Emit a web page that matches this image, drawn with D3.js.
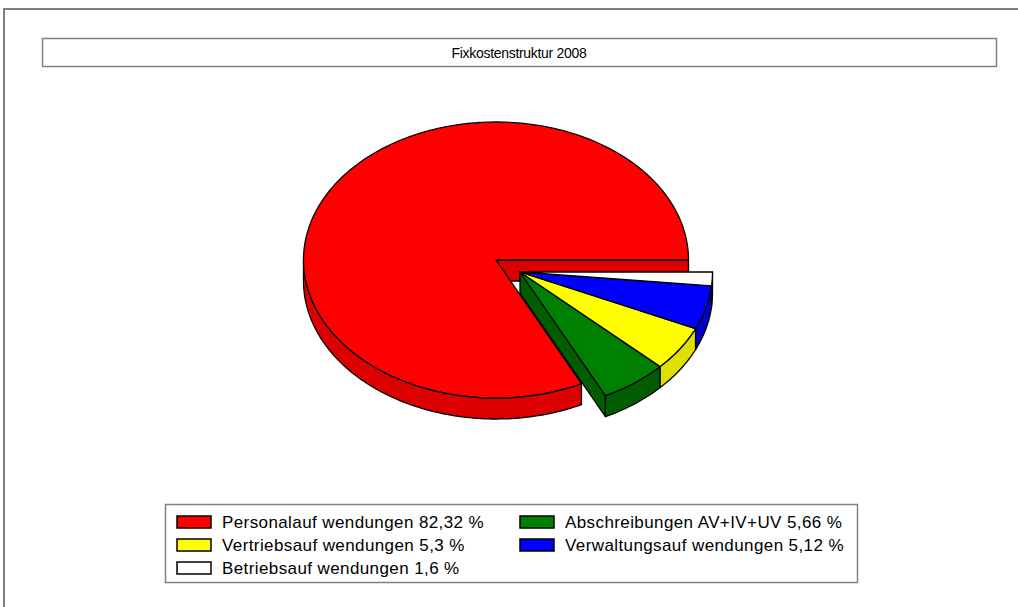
<!DOCTYPE html>
<html>
<head>
<meta charset="utf-8">
<script src="https://cdn.jsdelivr.net/npm/d3@7"></script>
<style>
  body { margin: 0; background: #fff; }
  svg { display: block; font-family: "Liberation Sans", Arial, sans-serif; }
</style>
</head>
<body>
<svg id="chart" width="1018" height="607"></svg>
<script>
// chart data
const title = "Fixkostenstruktur 2008";
const categories = ["Personalauf wendungen", "Abschreibungen AV+IV+UV", "Vertriebsauf wendungen", "Verwaltungsauf wendungen", "Betriebsauf wendungen"];
const values = [82.32, 5.66, 5.3, 5.12, 1.6];
const valueLabels = ["82,32", "5,66", "5,3", "5,12", "1,6"];
const exploded = [false, true, true, true, true];

// styles
const topColors = ["#ff0000", "#008000", "#ffff00", "#0000ff", "#ffffff"];
const sideColors = ["#dd0000", "#005e00", "#e0e000", "#0000c8", "#ffffff"];

const svg = d3.select("#chart");

// outer frame + title box
svg.append("path")
  .attr("d", "M4,607 V9 H1018")
  .attr("fill", "none").attr("stroke", "#808080").attr("stroke-width", 2);
svg.append("rect")
  .attr("x", 42.5).attr("y", 38.5).attr("width", 954).attr("height", 28)
  .attr("fill", "#fff").attr("stroke", "#808080").attr("stroke-width", 1.5);
svg.append("text")
  .attr("x", 519).attr("y", 57.5).attr("text-anchor", "middle")
  .attr("font-size", 14).attr("letter-spacing", -0.3).text(title);

// 3d pie geometry
const cx = 496, cy = 260, rx = 192.5, ry = 138, depth = 21;
const explodeOff = [24, 12];

const arcs = d3.pie().sort(null).value(d => d)(values);
// screen angle: start at east, go counter-clockwise
const angle = d3.scaleLinear().domain([0, 2 * Math.PI]).range([0, -2 * Math.PI]);

function pt(t, off, dz) {
  return [cx + off[0] + rx * Math.cos(t), cy + off[1] + ry * Math.sin(t) + (dz || 0)];
}
function arcPts(t0, t1, off, dz) {
  const n = Math.max(2, Math.ceil(Math.abs(t1 - t0) / 0.02));
  return d3.range(n + 1).map(i => pt(t0 + (t1 - t0) * i / n, off, dz));
}
const line = d3.line();

const slices = arcs.map((a, i) => ({
  i,
  t0: angle(a.startAngle),
  t1: angle(a.endAngle),
  off: exploded[i] ? explodeOff : [0, 0]
}));

function drawSides(g, s) {
  let lo = Math.min(s.t0, s.t1), hi = Math.max(s.t0, s.t1);
  const k = Math.floor(lo / (2 * Math.PI));
  lo -= 2 * Math.PI * k; hi -= 2 * Math.PI * k;
  [[0, Math.PI], [2 * Math.PI, 3 * Math.PI]].forEach(([a, b]) => {
    const l = Math.max(lo, a), h = Math.min(hi, b);
    if (h <= l) return;
    const pts = arcPts(l, h, s.off, 0).concat(arcPts(h, l, s.off, depth));
    g.append("path").attr("d", line(pts) + "Z")
      .attr("fill", sideColors[s.i]).attr("stroke", "#000").attr("stroke-width", 1.3)
      .attr("stroke-linejoin", "round");
  });
}
function drawFace(g, s, t) {
  const apex = [cx + s.off[0], cy + s.off[1]];
  const e = pt(t, s.off, 0);
  const pts = [apex, e, [e[0], e[1] + depth], [apex[0], apex[1] + depth]];
  g.append("path").attr("d", line(pts) + "Z")
    .attr("fill", sideColors[s.i]).attr("stroke", "#000").attr("stroke-width", 1.3)
    .attr("stroke-linejoin", "round");
}
function drawTop(g, s) {
  const apex = [cx + s.off[0], cy + s.off[1]];
  const pts = [apex].concat(arcPts(s.t0, s.t1, s.off, 0));
  g.append("path").attr("d", line(pts) + "Z")
    .attr("fill", topColors[s.i]).attr("stroke", "#000").attr("stroke-width", 1.3)
    .attr("stroke-linejoin", "round");
}

// group slices by explode state, draw back group first
const groups = [slices.filter(s => !exploded[s.i]), slices.filter(s => exploded[s.i])];
groups.forEach(grp => {
  const g = svg.append("g");
  const first = grp[0], last = grp[grp.length - 1];
  // radial faces at the group's outer boundaries, only those facing the viewer
  if (Math.cos(first.t0) > 0) drawFace(g, first, first.t0);
  if (Math.cos(last.t1) < 0) drawFace(g, last, last.t1);
  grp.forEach(s => drawSides(g, s));
  grp.forEach(s => drawTop(g, s));
});

// legend
svg.append("rect")
  .attr("x", 165.5).attr("y", 504.5).attr("width", 692).attr("height", 78)
  .attr("fill", "#fff").attr("stroke", "#808080").attr("stroke-width", 1.5);

const colX = [177, 520], rowY = [522, 545, 568];
const leg = svg.append("g").selectAll("g")
  .data(categories)
  .join("g")
  .attr("transform", (d, i) => `translate(${colX[i % 2]},${rowY[Math.floor(i / 2)]})`);
leg.append("rect")
  .attr("x", 0).attr("y", -6).attr("width", 34).attr("height", 12)
  .attr("fill", (d, i) => topColors[i]).attr("stroke", "#000").attr("stroke-width", 1.5);
leg.append("text")
  .attr("x", 45).attr("y", 6).attr("font-size", 17).attr("letter-spacing", 0.4)
  .text((d, i) => `${d} ${valueLabels[i]} %`);
</script>
</body>
</html>
